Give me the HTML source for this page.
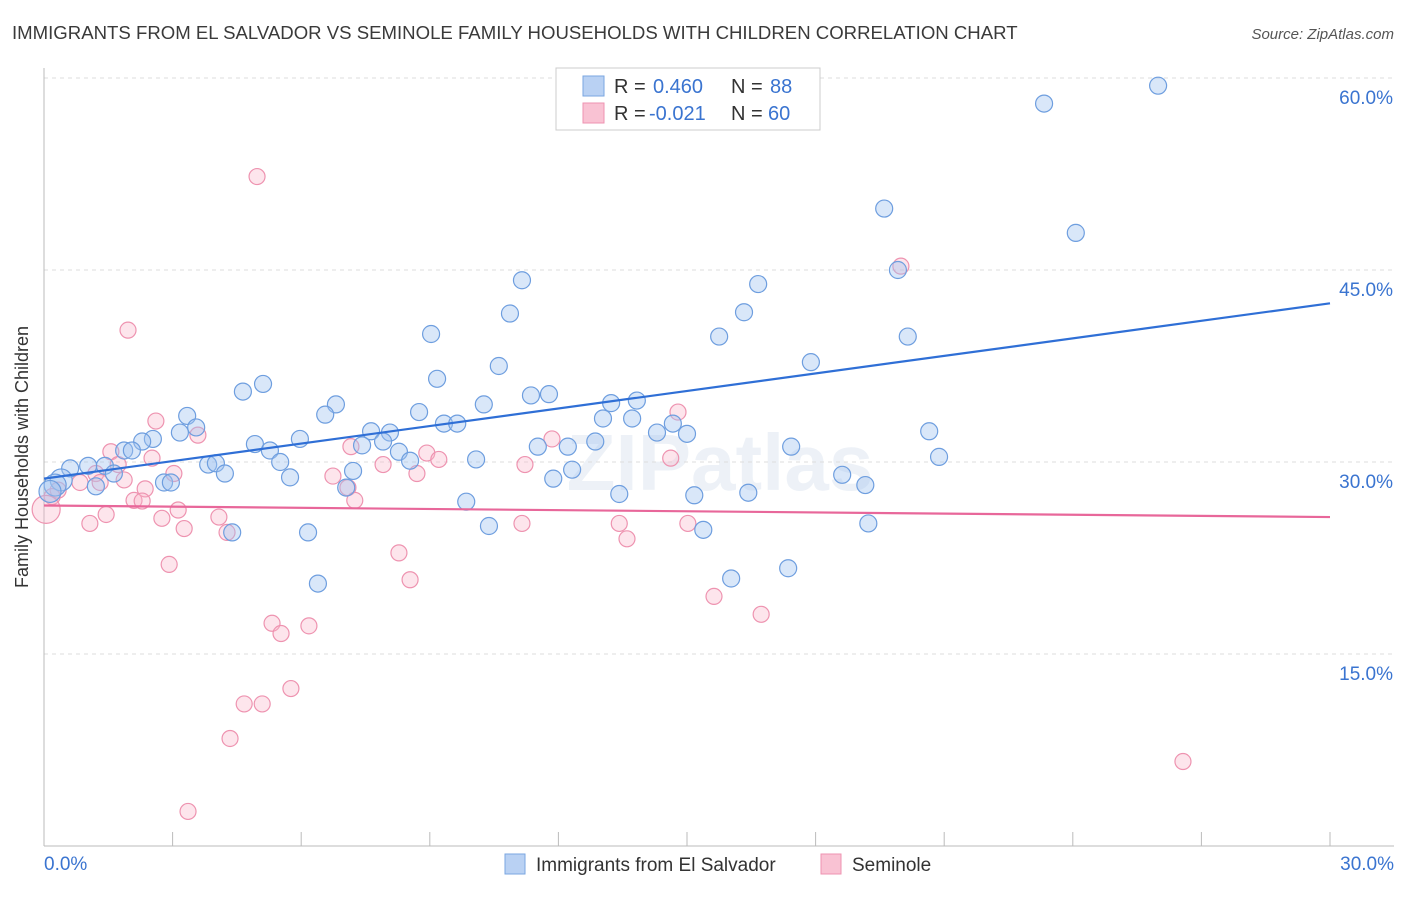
<!DOCTYPE html>
<html><head><meta charset="utf-8"><style>
body{margin:0;background:#fff;font-family:"Liberation Sans",sans-serif;}
svg text{font-family:"Liberation Sans",sans-serif;}
</style></head><body>
<svg id="chart" width="1406" height="892" xmlns="http://www.w3.org/2000/svg">
<text x="12" y="39" font-size="18.6" fill="#3a3a3a">IMMIGRANTS FROM EL SALVADOR VS SEMINOLE FAMILY HOUSEHOLDS WITH CHILDREN CORRELATION CHART</text>
<text x="1394" y="39" font-size="15" fill="#555" font-style="italic" text-anchor="end">Source: ZipAtlas.com</text>
<text x="28" y="457" font-size="18" fill="#333" text-anchor="middle" transform="rotate(-90 28 457)">Family Households with Children</text>
<text x="720" y="490" font-size="80" fill="#d8e2ee" text-anchor="middle" font-weight="bold" opacity="0.45">ZIPatlas</text>
<g id="grid"></g>
<g id="axes"></g>
<g id="pts"></g>
<g id="lines"></g>
<g>
<rect x="556" y="68" width="264" height="62" fill="#fff" stroke="#ccc"/>
<rect x="583" y="76" width="21" height="20" fill="#b9d1f3" stroke="#7aa6e0"/>
<rect x="583" y="103" width="21" height="20" fill="#f9c2d3" stroke="#ee93b0"/>
<text x="614" y="93" font-size="20" fill="#333">R = </text><text x="653" y="93" font-size="20" fill="#3a74d0">0.460</text>
<text x="731" y="93" font-size="20" fill="#333">N = </text><text x="770" y="93" font-size="20" fill="#3a74d0">88</text>
<text x="614" y="120" font-size="20" fill="#333">R = </text><text x="649" y="120" font-size="20" fill="#3a74d0">-0.021</text>
<text x="731" y="120" font-size="20" fill="#333">N = </text><text x="768" y="120" font-size="20" fill="#3a74d0">60</text>
</g>
<g>
<rect x="505" y="854" width="20" height="20" fill="#b9d1f3" stroke="#7aa6e0"/>
<text x="536" y="871" font-size="19" fill="#333">Immigrants from El Salvador</text>
<rect x="821" y="854" width="20" height="20" fill="#f9c2d3" stroke="#ee93b0"/>
<text x="852" y="871" font-size="19" fill="#333">Seminole</text>
</g>
</svg>
<script>
const yTicks=[15,30,45,60];
const xTickLabels=["0.0%","30.0%"];
const blueX=[25.99,23.33,19.6,24.07,19.92,11.15,16.66,10.87,16.33,9.03,15.75,20.15,10.61,17.89,9.17,5.11,4.64,11.36,11.78,6.81,10.26,13.23,13.83,8.75,3.34,6.56,13.04,13.72,3.55,9.33,9.64,14.67,20.65,3.17,7.63,8.07,14.3,15.0,2.54,2.29,5.97,7.91,4.92,7.42,12.86,11.52,12.22,17.43,1.87,2.05,5.27,8.28,20.88,5.51,8.54,10.08,3.83,4.01,1.42,1.03,0.61,7.21,12.32,4.22,1.63,5.74,18.62,11.88,2.8,2.96,0.4,0.26,1.21,19.16,7.05,0.14,13.42,15.17,16.43,9.85,19.23,10.38,15.38,4.39,6.16,6.39,16.03,17.36];
const blueY=[59.4,58.0,49.8,47.9,45.0,44.2,43.9,41.6,41.7,40.0,39.8,39.8,37.5,37.8,36.5,36.1,35.5,35.2,35.3,34.5,34.5,34.6,34.8,33.9,33.6,33.7,33.4,33.4,32.7,33.0,33.0,33.0,32.4,32.3,32.4,32.3,32.3,32.2,31.8,31.6,31.8,31.6,31.4,31.3,31.6,31.2,31.2,31.2,30.9,30.9,30.9,30.8,30.4,30.0,30.1,30.2,29.8,29.9,29.7,29.7,29.5,29.3,29.4,29.1,29.1,28.8,29.0,28.7,28.4,28.4,28.6,28.2,28.1,28.2,28.0,27.7,27.5,27.4,27.6,26.9,25.2,25.0,24.7,24.5,24.5,20.5,20.9,21.7];
const pinkX=[4.97,1.96,19.99,14.79,2.61,3.59,11.85,7.16,1.56,8.93,2.52,9.21,14.62,7.91,11.22,1.73,3.03,1.21,6.74,8.7,1.87,0.84,1.31,2.36,7.09,0.33,2.1,2.29,7.25,0.19,3.13,1.45,2.75,4.08,1.07,3.27,4.27,11.15,13.42,15.02,13.6,2.92,8.28,8.54,15.63,16.73,5.32,6.18,5.53,5.76,4.67,5.09,4.34,3.36,26.57,0.05];
const pinkY=[52.3,40.3,45.3,33.9,33.2,32.1,31.8,31.2,30.8,30.7,30.3,30.2,30.3,29.8,29.8,29.8,29.1,29.1,28.9,29.1,28.6,28.4,28.4,27.9,28.0,27.8,27.0,26.95,27.0,27.3,26.25,25.9,25.6,25.7,25.2,24.8,24.5,25.2,25.2,25.2,24.0,22.0,22.9,20.8,19.5,18.1,17.4,17.2,16.6,12.3,11.1,11.1,8.4,2.7,6.6,26.3];
const blueTrend=[28.7,42.4];
const pinkTrend=[26.6,25.7];
const X=v=>44+v/30*1286, Y=v=>846-v*12.8;
const NS="http://www.w3.org/2000/svg";
function mk(parent,tag,attrs){const e=document.createElementNS(NS,tag);for(const k in attrs)e.setAttribute(k,attrs[k]);document.getElementById(parent).appendChild(e);return e;}
yTicks.forEach(t=>{
 const l=mk('grid','line',{x1:44,x2:1394,y1:Y(t),y2:Y(t),stroke:'#ddd','stroke-dasharray':'4 4'});
 
 
 const tx=mk('grid','text',{x:1393,y:Y(t)+26,'font-size':19,fill:'#3a74d0','text-anchor':'end'});tx.textContent=t.toFixed(1)+'%';
 
 
});
mk('axes','line',{x1:44,x2:44,y1:68,y2:846,stroke:'#bbb'});
mk('axes','line',{x1:44,x2:1394,y1:846,y2:846,stroke:'#bbb'});
for(let i=0;i<=10;i++){const x=X(i*3);const t=mk('axes','line',{x1:x,x2:x,y1:832,y2:846,stroke:'#bbb'});
 
 }
const xl0=mk('axes','text',{x:44,y:870,'font-size':19,fill:'#3a74d0'});xl0.textContent=xTickLabels[0];


const xl1=mk('axes','text',{x:1394,y:870,'font-size':19,fill:'#3a74d0','text-anchor':'end'});xl1.textContent=xTickLabels[1];


pinkX.forEach((v,i)=>{const r=i===pinkX.length-1?14:8;const c=mk('pts','circle',{cx:X(v),cy:Y(pinkY[i]),r:r,fill:'rgba(249,180,200,0.35)',stroke:'#ee93b0','stroke-width':1.2});
 
 });
blueX.forEach((v,i)=>{const r=(v<0.5)?11:8.5;const c=mk('pts','circle',{cx:X(v),cy:Y(blueY[i]),r:r,fill:'rgba(160,195,240,0.4)',stroke:'#6e9edf','stroke-width':1.2});
 
 });
const bl=mk('lines','line',{x1:X(0),x2:X(30),y1:Y(blueTrend[0]),y2:Y(blueTrend[1]),stroke:'#2f6fd6','stroke-width':2.2});


const pl=mk('lines','line',{x1:X(0),x2:X(30),y1:Y(pinkTrend[0]),y2:Y(pinkTrend[1]),stroke:'#e8679a','stroke-width':2.2});


</script>
</body></html>
